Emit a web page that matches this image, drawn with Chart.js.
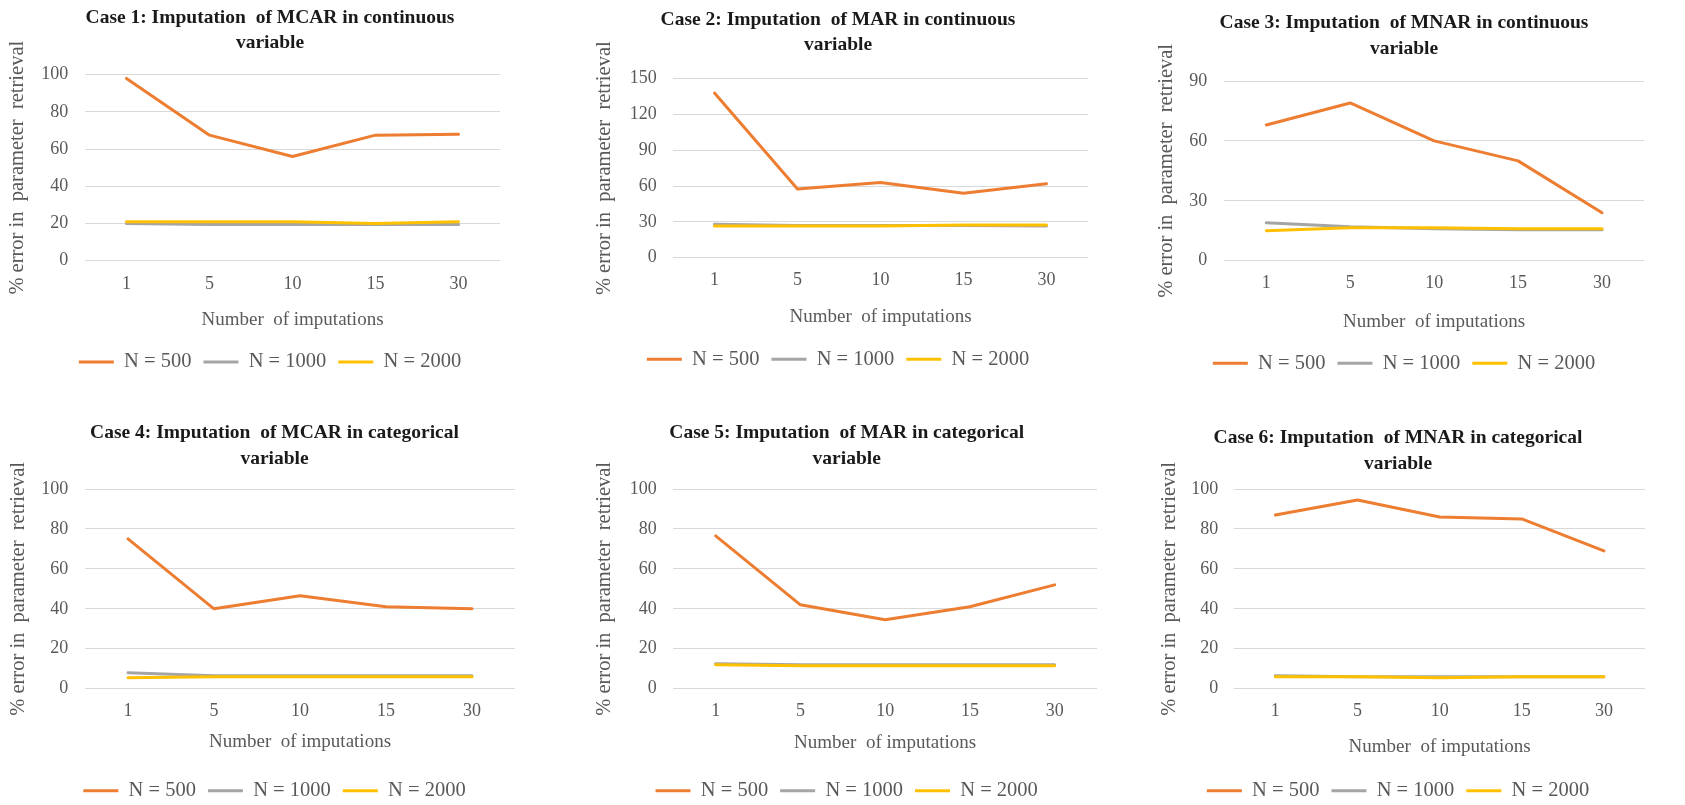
<!DOCTYPE html>
<html>
<head>
<meta charset="utf-8">
<script src="https://cdn.jsdelivr.net/npm/chart.js@4.4.1/dist/chart.umd.min.js"></script>
<style>
html,body{margin:0;padding:0;background:#fff;width:1685px;height:805px;overflow:hidden;position:relative}
canvas{position:absolute;display:block}
</style>
</head>
<body>
<script>
// ---------- data ----------
const categories = ['1', '5', '10', '15', '30'];
const seriesNames = ['N = 500', 'N = 1000', 'N = 2000'];

const case1N500  = [98, 67.5, 56, 67.5, 68];
const case1N1000 = [20, 19.5, 19.5, 19.5, 19.5];
const case1N2000 = [21, 21, 21, 20, 21];

const case2N500  = [138, 57.5, 63, 54, 62];
const case2N1000 = [28, 27, 27, 27, 26.5];
const case2N2000 = [26.5, 26.5, 26.5, 27.5, 27.5];

const case3N500  = [68, 79, 60, 50, 24];
const case3N1000 = [19, 17, 16, 15.5, 15.5];
const case3N2000 = [15, 16.5, 16.5, 16, 16];

const case4N500  = [75, 40, 46.5, 41, 40];
const case4N1000 = [8, 6.5, 6.5, 6.5, 6.5];
const case4N2000 = [5.5, 6, 6, 6, 6];

const case5N500  = [76.5, 42, 34.5, 41, 52];
const case5N1000 = [12.5, 12, 12, 12, 12];
const case5N2000 = [12, 11.5, 11.5, 11.5, 11.5];

const case6N500  = [87, 94.5, 86, 85, 69];
const case6N1000 = [6.5, 6, 6, 6, 6];
const case6N2000 = [6, 6, 5.5, 6, 6];

const chartTitles = [
  ['Case 1: Imputation  of MCAR in continuous', 'variable'],
  ['Case 2: Imputation  of MAR in continuous', 'variable'],
  ['Case 3: Imputation  of MNAR in continuous', 'variable'],
  ['Case 4: Imputation  of MCAR in categorical', 'variable'],
  ['Case 5: Imputation  of MAR in categorical', 'variable'],
  ['Case 6: Imputation  of MNAR in categorical', 'variable']
];
const yMaxima = [100, 150, 90, 100, 100, 100];
const yTickSteps = [20, 30, 30, 20, 20, 20];
const xAxisTitle = 'Number  of imputations';
const yAxisTitle = '% error in  parameter  retrieval';

const caseSeries = [
  [case1N500, case1N1000, case1N2000],
  [case2N500, case2N1000, case2N2000],
  [case3N500, case3N1000, case3N2000],
  [case4N500, case4N1000, case4N2000],
  [case5N500, case5N1000, case5N2000],
  [case6N500, case6N1000, case6N2000]
];

// ---------- styling / layout ----------
const colors = ['#ED7D31', '#A5A5A5', '#FFC000'];
const FONT = 'Liberation Serif';
const LH = 1.2;
const FS_TICK = 18, FS_XT = 19, FS_YT = 20.5, FS_LEG = 20.5, FS_TITLE = 19.5, TLH = 1.3, LP = 12;
const lhTick = FS_TICK * LH, lhX = FS_XT * LH, lhY = FS_YT * LH, tlh = FS_TITLE * TLH;

// panel geometry (local canvas coordinates)
const panels = [
  {x:0,    y:0,   w:560, h:400, L:85,    R:500, T:74.7, B:260.7, t1:18,   yT:18,   yTR:68.3, xTk:284,   xT:320,   lg:362,   C:270},
  {x:560,  y:0,   w:560, h:400, L:113,   R:528, T:78.7, B:257.7, t1:20,   yT:45,   yTR:96.7, xTk:280.7, xT:316.7, lg:359.3, C:278},
  {x:1120, y:0,   w:565, h:400, L:104.3, R:524, T:81,   B:260.7, t1:23.3, yT:46.7, yTR:87.3, xTk:283.3, xT:321.7, lg:363.3, C:284},
  {x:0,    y:400, w:560, h:412, L:85,    R:515, T:89,   B:288.7, t1:33.3, yT:18.3, yTR:68.3, xTk:311.7, xT:341.7, lg:390.7, C:274.5},
  {x:560,  y:400, w:560, h:412, L:113.3, R:537, T:89,   B:288.7, t1:33.3, yT:45,   yTR:96.7, xTk:311.7, xT:343.3, lg:390.7, C:286.7},
  {x:1120, y:400, w:565, h:412, L:114.3, R:525, T:89,   B:288.7, t1:38.3, yT:50,   yTR:98.3, xTk:311.7, xT:346.7, lg:390.7, C:278}
];

Chart.defaults.font.family = FONT;
Chart.defaults.color = '#595959';

panels.forEach((g, i) => {
  const cv = document.createElement('canvas');
  cv.width = g.w; cv.height = g.h;
  cv.style.left = g.x + 'px'; cv.style.top = g.y + 'px';
  cv.style.width = g.w + 'px'; cv.style.height = g.h + 'px';
  document.body.appendChild(cv);

  const a = 2 * g.C - g.R;          // left layout padding
  const pr = g.w - g.R;             // right layout padding
  const legendTop = g.lg - LP - FS_LEG / 2;
  const padBottom = g.h - legendTop - (FS_LEG + LP + 10);
  const titlePadTop = g.t1 - tlh / 2;
  const titlePadBottom = g.T - titlePadTop - 2 * tlh;

  const datasets = caseSeries[i].map((vals, k) => ({
    label: seriesNames[k],
    data: vals,
    borderColor: colors[k],
    backgroundColor: colors[k],
    borderWidth: 3,
    pointRadius: 0,
    pointHoverRadius: 0,
    tension: 0,
    fill: false,
    borderCapStyle: 'round',
    borderJoinStyle: 'round',
    order: 3 - k
  }));

  new Chart(cv, {
    type: 'line',
    data: { labels: categories, datasets },
    options: {
      responsive: false,
      animation: false,
      devicePixelRatio: 1,
      layout: { padding: { left: a, right: pr, top: 0, bottom: padBottom } },
      plugins: {
        tooltip: { enabled: false },
        title: {
          display: true,
          text: chartTitles[i],
          color: '#1a1a1a',
          font: { family: FONT, size: FS_TITLE, weight: 'bold', lineHeight: TLH },
          padding: { top: titlePadTop, bottom: titlePadBottom },
          fullSize: true
        },
        legend: {
          display: true,
          position: 'bottom',
          fullSize: true,
          labels: {
            usePointStyle: true,
            pointStyle: 'line',
            pointStyleWidth: 35,
            padding: LP,
            color: '#595959',
            font: { family: FONT, size: FS_LEG, lineHeight: LH },
            sort: (p, q) => p.datasetIndex - q.datasetIndex
          }
        }
      },
      scales: {
        x: {
          type: 'category',
          offset: true,
          grid: { display: false, drawTicks: false },
          border: { display: false },
          ticks: { padding: g.xTk - g.B - lhTick / 2, color: '#595959', font: { family: FONT, size: FS_TICK, lineHeight: LH }, maxRotation: 0, autoSkip: false },
          title: {
            display: true, text: xAxisTitle, color: '#595959',
            font: { family: FONT, size: FS_XT, lineHeight: LH },
            padding: { top: 0, bottom: legendTop - g.xT - lhX / 2 }
          },
          afterFit: (s) => { s.height = legendTop - g.B; }
        },
        y: {
          position: 'left',
          min: 0,
          max: yMaxima[i],
          grid: { color: '#D9D9D9', lineWidth: 1, drawTicks: false },
          border: { display: false },
          ticks: { stepSize: yTickSteps[i], padding: g.L - g.yTR, color: '#595959', font: { family: FONT, size: FS_TICK, lineHeight: LH } },
          title: {
            display: true, text: yAxisTitle, color: '#595959',
            font: { family: FONT, size: FS_YT, lineHeight: LH },
            padding: { top: g.yT - a - lhY / 2, bottom: 0 }
          },
          afterFit: (s) => { s.width = g.L - a; }
        }
      }
    }
  });
});
</script>
</body>
</html>
